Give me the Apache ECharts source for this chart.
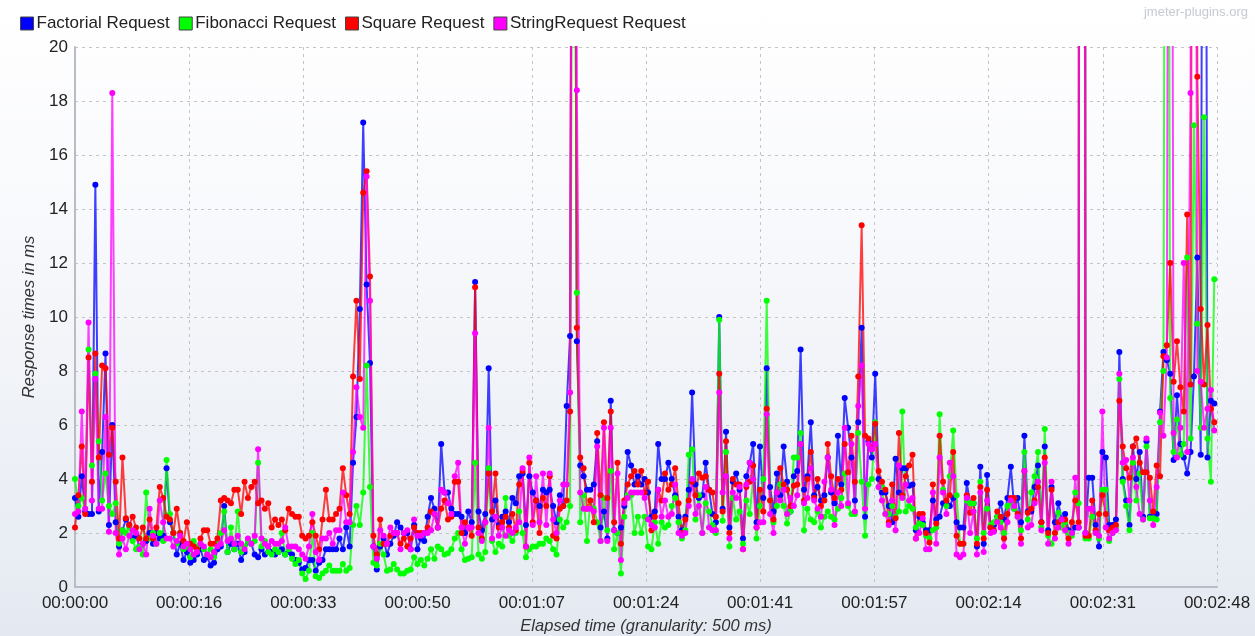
<!DOCTYPE html>
<html><head><meta charset="utf-8">
<script src="https://cdn.jsdelivr.net/npm/echarts@6/dist/echarts.min.js"></script>
<style>
html,body{margin:0;padding:0;}
body{width:1255px;height:636px;background:linear-gradient(180deg,#ffffff 0%,#f8f9fc 35%,#e9edf4 85%,#e4e9f1 100%);}
#c{width:1255px;height:636px;}
</style></head><body><div id="c"></div>
<script>
const seriesNames = ['Factorial Request', 'Fibonacci Request', 'Square Request', 'StringRequest Request'];
const seriesColors = ['#0000ff', '#00ff00', '#ff0000', '#ff00ff'];
const tickLabels = ['00:00:00','00:00:16','00:00:33','00:00:50','00:01:07','00:01:24','00:01:41','00:01:57','00:02:14','00:02:31','00:02:48'];
const granularitySec = 0.5;

const factorial = [
3.3,2.6,4.1,2.8,2.7,2.7,14.9,2.8,5.0,8.65,2.3,6.0,2.4,1.5,2.1,2.5,2.3,1.8,1.9,1.5,1.6,1.7,2.0,1.6,2.0,1.8,1.9,4.4,2.4,2.0,
1.2,1.6,1.0,1.3,0.9,1.0,1.2,1.4,1.0,1.1,0.8,0.9,1.4,1.5,3.0,1.3,1.6,1.4,1.6,1.0,1.3,1.7,1.6,1.2,1.1,1.4,1.2,1.5,1.3,1.2,
1.3,1.4,1.2,1.3,1.2,1.0,0.9,0.65,0.7,1.0,1.0,0.6,0.9,1.0,1.4,1.4,1.4,1.4,1.8,1.4,2.2,1.5,4.6,6.3,10.3,17.2,11.2,8.3,1.5,0.65,
1.5,1.8,1.2,1.6,1.9,2.4,2.2,2.0,2.0,1.4,2.3,1.4,1.8,1.7,2.6,3.3,2.9,2.2,5.3,3.5,3.5,2.9,2.7,2.7,2.6,2.0,2.8,2.4,11.3,2.8,
2.1,2.7,8.1,2.5,3.2,2.3,2.6,2.8,2.4,3.3,3.1,4.1,4.2,2.3,4.1,3.5,3.2,3.0,3.6,3.5,3.6,3.0,2.4,3.4,3.0,6.7,9.3,45,9.1,4.5,
4.1,3.6,3.6,3.8,5.4,2.2,2.8,1.8,6.9,2.1,2.0,2.2,3.0,5.0,4.5,3.8,4.1,3.8,4.0,3.5,2.6,2.8,5.3,4.0,4.0,4.6,4.0,3.4,2.6,2.1,
2.6,3.6,7.2,3.8,3.3,3.4,4.6,3.6,2.7,2.4,10.0,2.9,5.75,2.2,3.9,4.2,3.6,1.8,4.1,4.6,5.3,2.4,5.2,3.3,8.1,3.7,2.8,4.2,3.4,5.2,
3.9,2.8,4.1,4.3,8.8,3.6,4.1,6.1,3.4,3.7,3.2,3.4,4.8,3.5,3.1,5.6,3.8,7.0,5.9,4.8,3.2,6.1,9.6,2.6,5.4,4.8,7.9,4.0,3.5,3.5,
3.0,2.4,4.75,3.5,4.4,4.4,3.75,3.8,2.1,2.6,2.4,2.1,2.1,3.2,2.5,2.6,3.1,3.1,3.0,3.3,2.4,2.2,2.2,3.85,3.1,3.1,1.5,4.45,1.6,4.15,
2.2,2.3,2.6,3.1,2.5,3.3,4.45,2.9,3.3,2.4,5.6,2.8,2.8,3.7,4.5,2.4,5.2,2.1,3.7,2.4,3.1,2.5,2.7,2.1,2.0,2.2,2.2,250,2.0,4.05,
4.05,2.3,1.5,5.0,4.8,2.3,2.3,2.5,8.7,4.0,3.2,2.3,5.2,4.0,5.0,2.6,5.4,2.6,2.6,2.7,6.5,8.7,8.4,7.9,4.7,7.1,5.3,4.8,4.2,5.0,
7.8,12.2,4.9,60,4.8,6.9,6.8];

const fibonacci = [
4.0,3.0,3.3,2.9,8.8,4.5,7.9,5.4,3.2,4.2,3.0,2.7,3.1,1.6,2.1,2.0,2.2,1.7,1.4,1.5,1.2,3.5,1.8,2.0,1.6,2.0,1.7,4.7,2.7,2.0,
1.6,2.0,1.4,1.5,1.1,1.7,1.5,1.6,1.4,1.2,1.4,1.1,1.6,2.0,2.8,1.3,2.2,1.4,2.8,1.3,1.5,1.7,1.6,1.7,4.6,1.5,1.7,1.3,1.2,1.4,
1.3,2.0,1.2,1.4,1.05,0.85,1.0,0.5,0.3,0.6,2.0,0.4,0.33,0.5,0.6,0.8,0.6,0.6,0.6,0.85,0.6,0.7,2.3,3.0,2.3,3.5,8.2,3.7,0.9,0.8,
1.6,1.2,0.6,0.65,0.85,0.65,0.5,0.5,0.6,0.65,1.1,0.85,1.0,0.8,1.05,1.4,1.05,1.5,1.4,1.2,1.25,1.4,1.8,2.0,1.4,1.0,1.05,1.1,4.6,1.2,
1.05,1.3,4.4,1.7,1.3,1.6,1.5,3.3,1.9,1.7,2.0,2.8,2.0,1.1,1.4,1.5,1.5,1.6,1.6,1.8,1.7,1.4,1.2,2.5,2.2,2.4,3.0,40,10.9,2.4,
3.4,1.7,3.2,2.9,2.4,1.7,3.3,2.1,4.3,1.4,2.0,0.5,2.6,3.4,3.4,2.0,2.6,2.0,2.6,1.5,1.4,2.4,1.6,2.4,2.2,2.3,3.0,3.3,2.4,1.8,
2.1,4.9,5.1,2.5,3.4,2.0,3.1,2.8,2.3,2.0,9.9,2.45,5.0,1.5,3.3,2.5,2.8,1.6,3.2,2.7,4.0,1.8,3.0,4.0,10.6,3.2,2.4,3.0,3.8,3.0,
2.35,2.8,4.8,4.8,5.7,2.1,2.9,2.5,2.4,2.8,2.2,2.6,2.8,2.6,2.5,2.9,3.3,4.2,3.0,2.7,2.7,5.7,3.9,1.9,3.8,4.0,6.1,3.7,3.7,2.7,
2.7,3.0,2.6,2.8,6.5,2.8,3.0,2.9,2.2,2.35,2.3,1.9,1.8,2.1,2.2,6.4,3.6,3.0,4.1,5.8,3.4,1.6,1.6,3.2,3.1,3.1,1.8,3.9,2.0,2.9,
2.3,2.4,2.6,2.4,2.0,3.0,3.1,2.9,2.6,2.1,5.0,2.5,3.5,4.1,5.0,2.2,5.85,1.9,1.6,2.0,2.75,2.2,2.4,2.0,1.9,3.5,3.1,200,1.8,1.8,
2.6,2.0,1.8,3.6,3.6,1.7,2.0,2.2,7.7,3.9,3.0,2.1,4.6,3.2,4.2,2.5,5.2,2.55,2.55,2.5,6.1,8.0,60,7.0,5.0,6.2,4.9,5.3,12.2,5.5,
17.1,9.75,5.9,17.4,5.5,3.9,11.4];

const square = [
2.2,3.4,5.2,2.7,8.5,3.9,8.65,4.8,8.2,8.1,4.9,5.9,3.9,1.8,4.8,2.55,2.3,2.6,2.2,1.8,2.2,1.8,2.5,1.8,2.2,3.7,3.3,2.6,2.5,2.0,
2.9,2.0,1.7,2.4,1.6,1.5,1.4,1.8,2.1,2.1,1.6,1.6,1.8,3.2,3.3,3.2,3.1,3.6,3.6,2.7,3.9,3.3,3.7,3.9,3.1,3.2,2.9,3.1,2.2,2.5,
2.3,2.5,2.1,2.9,2.7,2.6,2.6,1.9,1.8,1.9,2.4,1.9,1.4,2.5,3.6,2.5,2.5,2.7,2.9,4.4,3.4,2.7,7.8,10.6,7.7,14.6,15.4,11.5,1.9,1.2,
2.5,1.6,1.6,1.9,2.0,2.0,1.6,1.8,1.5,1.8,2.2,2.0,2.0,2.0,2.2,2.8,2.7,2.2,2.9,3.2,2.5,2.6,3.9,3.9,2.0,2.4,2.2,1.9,11.1,2.2,
1.8,2.4,4.2,2.8,4.2,2.2,2.4,2.6,2.2,2.7,2.1,3.8,4.3,1.5,4.6,2.4,3.2,2.0,3.3,3.0,4.1,1.9,1.8,2.9,3.0,3.2,6.5,60,9.6,4.8,
4.4,2.9,3.2,2.4,5.7,3.4,6.1,3.3,6.5,2.4,4.6,1.6,3.2,3.8,4.1,4.3,3.8,4.3,3.5,3.9,2.1,2.6,3.6,3.2,4.2,3.6,3.8,4.4,3.1,2.0,
2.5,3.2,3.9,3.4,4.2,4.05,4.1,3.6,3.5,2.6,7.9,2.8,5.4,2.0,4.0,3.8,3.8,1.4,3.7,3.9,4.5,2.2,3.6,2.8,6.6,3.2,2.5,3.5,4.4,3.8,
3.6,3.0,3.75,3.8,5.3,3.2,4.0,5.0,3.3,4.0,3.0,3.2,5.3,4.1,3.3,4.0,3.6,5.3,4.25,5.6,3.9,7.8,13.4,5.6,5.5,5.1,6.05,4.3,3.9,3.6,
2.4,3.8,2.55,5.7,3.4,4.1,4.5,4.9,1.8,2.7,2.7,2.0,1.65,3.8,2.35,5.6,3.9,3.2,3.4,5.0,1.9,1.6,1.6,3.4,2.75,3.3,1.6,3.7,1.8,3.6,
2.2,2.1,2.8,2.6,1.8,2.7,3.3,3.3,2.7,1.8,4.3,2.75,2.9,3.2,3.7,2.4,4.8,2.0,3.6,2.0,2.4,2.5,2.5,1.8,2.4,3.2,2.4,300,1.9,1.9,
3.2,2.1,2.7,3.4,2.7,2.1,2.2,2.3,6.9,5.2,4.4,4.05,5.2,5.5,4.6,4.25,4.25,4.05,2.8,4.5,4.1,8.55,8.95,12.0,7.6,9.1,7.4,6.5,13.8,7.5,
60,18.9,10.3,7.5,9.7,6.6,6.1];

const stringRequest = [
2.7,2.8,6.5,2.9,9.8,3.2,7.7,2.9,2.9,6.3,2.05,18.3,2.0,1.2,1.8,1.4,1.9,2.1,2.0,1.4,1.6,1.2,2.9,1.9,1.6,3.2,2.4,1.8,1.8,1.5,
1.7,1.9,1.5,1.6,1.4,1.2,1.3,1.6,1.5,1.2,1.1,1.3,1.5,1.6,2.1,1.7,1.8,1.6,1.9,1.6,1.4,1.8,1.6,1.9,5.1,1.8,1.6,1.5,1.7,1.6,
1.6,1.7,2.2,1.5,1.5,1.5,1.4,1.2,1.05,1.5,2.7,1.3,1.0,1.8,1.8,2.0,1.6,2.1,2.1,3.5,2.4,2.4,5.0,7.4,6.3,5.9,15.2,10.6,1.5,1.05,
2.1,1.9,1.6,2.2,2.0,2.0,1.4,2.0,2.1,1.4,2.5,1.9,1.9,2.0,2.0,2.1,2.7,2.2,3.6,3.5,3.1,2.7,4.1,4.6,2.2,1.6,2.2,2.2,9.4,2.0,
1.7,2.4,5.9,1.8,2.6,1.9,2.2,1.9,2.1,2.0,2.2,2.4,4.4,1.5,4.8,2.3,4.1,2.4,4.2,2.3,4.2,2.5,2.0,3.2,3.8,3.8,7.2,55,18.4,3.5,
2.9,2.9,2.9,2.8,5.2,1.7,5.9,1.7,5.9,2.1,4.2,1.0,3.1,3.3,3.5,3.5,3.5,3.5,3.3,2.5,2.3,2.2,3.6,2.6,3.2,2.6,2.7,3.8,2.0,1.9,
2.0,3.0,4.0,2.7,3.0,2.0,3.7,2.2,2.1,2.1,7.2,3.5,4.1,1.8,3.5,3.3,3.7,1.4,3.8,4.6,4.0,2.2,2.4,2.4,6.4,2.7,2.0,3.5,3.2,3.6,
2.7,3.3,3.0,3.4,5.3,3.1,3.3,4.4,3.2,2.9,2.6,3.9,4.8,3.6,2.3,3.5,3.0,5.9,3.1,5.3,2.8,6.7,8.2,2.9,5.3,5.1,5.3,3.7,3.2,2.7,
2.3,3.2,2.1,4.5,3.3,3.8,3.2,3.3,1.8,2.0,2.55,1.4,1.4,3.5,1.6,4.8,3.5,2.7,4.6,4.1,1.2,1.1,1.2,3.3,2.0,2.8,1.2,3.5,1.3,3.2,
2.0,2.05,2.4,2.2,1.5,2.4,3.2,3.0,2.6,1.6,4.3,2.2,2.3,3.1,3.9,2.1,4.6,1.6,3.9,1.8,2.2,2.5,2.1,1.6,2.0,4.05,2.2,260,2.0,2.9,
2.9,2.0,1.9,6.5,2.2,1.8,2.0,2.1,7.9,4.6,4.7,3.2,4.8,3.7,2.7,2.5,5.5,3.2,2.3,3.7,6.45,5.6,8.5,60,5.7,4.8,5.9,12.0,5.0,18.3,
60,8.0,7.6,5.9,6.6,7.3,5.8];

const allValues = [factorial, fibonacci, square, stringRequest];
const FONT = '"Liberation Sans", Arial, sans-serif';
const xMax = 168.4, xStep = 16.84;

const chart = echarts.init(document.getElementById('c'), null, {renderer: 'canvas'});
chart.setOption({
  animation: false,
  backgroundColor: 'transparent',
  textStyle: {fontFamily: FONT},
  graphic: [{type: 'text', right: 7, top: 6, style: {text: 'jmeter-plugins.org', fill: '#c5cad3', font: '13px ' + FONT}}],
  legend: {
    left: 15, top: 10, icon: 'rect', itemWidth: 13, itemHeight: 13, itemGap: 9,
    itemStyle: {borderColor: '#444', borderWidth: 1},
    textStyle: {fontSize: 17, color: '#222', fontFamily: FONT, padding: [0, 0, 0, -2]},
    data: seriesNames
  },
  grid: {left: 75, right: 38, top: 47, bottom: 49, outerBoundsMode: 'none', containLabel: false},
  xAxis: {
    type: 'value', min: 0, max: xMax, interval: xStep,
    name: 'Elapsed time (granularity: 500 ms)', nameLocation: 'middle', nameGap: 31,
    nameTextStyle: {fontStyle: 'italic', fontSize: 16.5, color: '#333', fontFamily: FONT},
    axisLine: {show: true, lineStyle: {color: '#b9bcc4', width: 2}},
    axisTick: {show: false},
    axisLabel: {margin: 8, fontSize: 17, color: '#222', fontFamily: FONT,
      formatter: v => tickLabels[Math.round(v / xStep)] || ''},
    splitLine: {show: true, lineStyle: {color: '#c4c4c4', type: [3, 4], width: 1}}
  },
  yAxis: {
    type: 'value', min: 0, max: 20, interval: 2,
    name: 'Response times in ms', nameLocation: 'middle', nameGap: 37, nameRotate: 90,
    nameTextStyle: {fontStyle: 'italic', fontSize: 16.5, color: '#333', fontFamily: FONT},
    axisLine: {show: true, lineStyle: {color: '#b9bcc4', width: 2}},
    axisTick: {show: false},
    axisLabel: {margin: 7, fontSize: 17, color: '#222', fontFamily: FONT},
    splitLine: {show: true, lineStyle: {color: '#c4c4c4', type: [3, 4], width: 1}}
  },
  series: allValues.map((vals, i) => ({
    name: seriesNames[i], type: 'line',
    data: vals.map((v, k) => [k * granularitySec, v]),
    color: seriesColors[i],
    symbol: 'circle', symbolSize: 6, showSymbol: true,
    itemStyle: {color: seriesColors[i]},
    lineStyle: {color: seriesColors[i], width: 2, opacity: 0.75},
    clip: true
  }))
});
</script></body></html>
